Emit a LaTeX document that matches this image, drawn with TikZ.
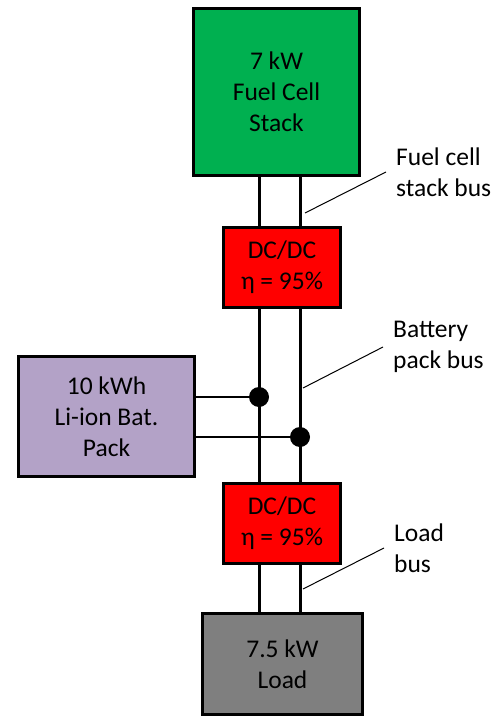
\documentclass[tikz,border=0pt]{standalone}
\usepackage{fontspec}
\setmainfont{Carlito}
\usepackage{xcolor}
\definecolor{fcgreen}{HTML}{00B050}
\definecolor{dcred}{HTML}{FF0000}
\definecolor{batpurple}{HTML}{B3A2C7}
\definecolor{loadgray}{HTML}{7F7F7F}

\begin{document}
\begin{tikzpicture}[x=1pt,y=-1pt,
    blk/.style={draw, line width=3pt, align=center, inner sep=0pt, font=\fontsize{25.5}{31}\selectfont},
    bus/.style={line width=3pt},
    tap/.style={line width=2pt},
    dot/.style={circle, fill=black, inner sep=0pt, minimum size=20pt},
    lbl/.style={anchor=west, align=left, inner xsep=10pt, inner ysep=0pt, font=\fontsize{25.5}{31}\selectfont},
    leader/.style={line width=1pt}]
                \useasboundingbox (0,0) rectangle (497,717);
                % Blocks
                \node[blk, fill=fcgreen, minimum width=166pt, minimum height=167pt] (fc) at (276.5,92) {7 kW\\Fuel Cell\\Stack};
                \node[blk, fill=dcred, minimum width=117pt, minimum height=80pt] (dc1) at (282,267.5) {DC/DC\\η = 95\%};
                \node[blk, fill=batpurple, minimum width=176pt, minimum height=120pt] (bat) at (106.5,416.5) {10 kWh\\Li-ion Bat.\\Pack};
                \node[blk, fill=dcred, minimum width=117pt, minimum height=80pt] (dc2) at (282,523.5) {DC/DC\\η = 95\%};
                \node[blk, fill=loadgray, minimum width=160pt, minimum height=101pt] (load) at (282.5,664) {7.5 kW\\Load};
                
                % Bus lines
                \coordinate (xl) at (259,0);
                \coordinate (xr) at (300,0);
                \draw[bus] (fc.south -| xl) -- (dc1.north -| xl);
                \draw[bus] (fc.south -| xr) -- (dc1.north -| xr);
                \draw[bus] (dc1.south -| xl) -- (dc2.north -| xl);
                \draw[bus] (dc1.south -| xr) -- (dc2.north -| xr);
                \draw[bus] (dc2.south -| xl) -- (load.north -| xl);
                \draw[bus] (dc2.south -| xr) -- (load.north -| xr);
                
                % Battery taps
                \node[dot] (d1) at (259,397) {};
                \node[dot] (d2) at (300,437) {};
                \draw[tap] (bat.east |- d1) -- (d1);
                \draw[tap] (bat.east |- d2) -- (d2);
                
                % Bus labels
                \node[lbl] (lfc) at (386,172) {Fuel cell\\stack bus};
                \node[lbl] (lbp) at (383,347) {Battery\\pack bus};
                \node[lbl] (llb) at (384,548) {Load\\bus};
                \coordinate (tfc) at (305,213);
                \coordinate (tbp) at (303,388);
                \coordinate (tlb) at (303,589);
                \draw[leader] (lfc.west) -- (tfc);
                \draw[leader] (lbp.west) -- (tbp);
                \draw[leader] (llb.west) -- (tlb);
            \end{tikzpicture}
\end{document}
